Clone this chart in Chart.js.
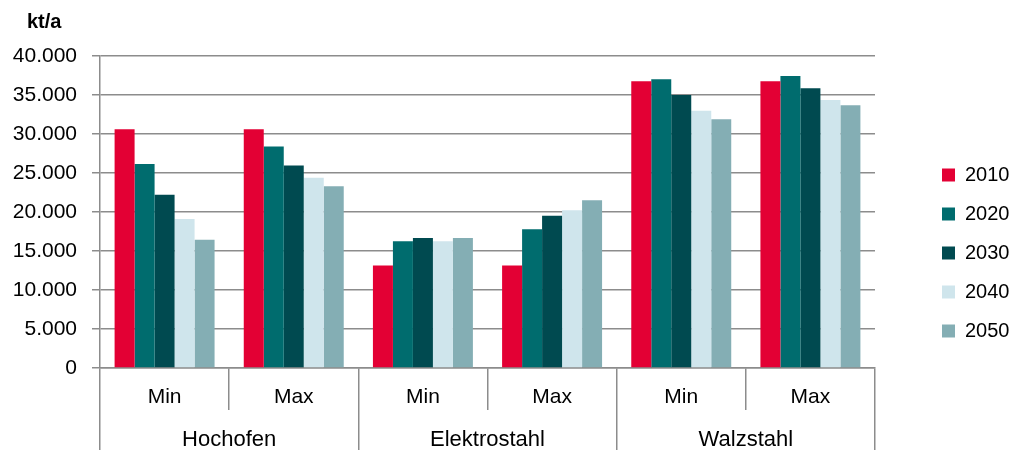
<!DOCTYPE html>
<html>
<head>
<meta charset="utf-8">
<script src="https://cdn.jsdelivr.net/npm/chart.js@4.4.1/dist/chart.umd.min.js"></script>
<style>
  html, body { margin: 0; padding: 0; background: #fff; }
  #wrap { width: 1010px; height: 450px; }
</style>
</head>
<body>
<div id="wrap"><canvas id="chart"></canvas></div>
<script>
// data
const categories = ["Min", "Max", "Min", "Max", "Min", "Max"];
const groups = ["Hochofen", "Elektrostahl", "Walzstahl"];
const years = ["2010", "2020", "2030", "2040", "2050"];

const s2010 = [30600, 30600, 13150, 13150, 36750, 36750];
const s2020 = [26150, 28400, 16250, 17780, 37010, 37440];
const s2030 = [22200, 25950, 16670, 19530, 35000, 35860];
const s2040 = [19100, 24400, 16250, 20210, 32990, 34360];
const s2050 = [16450, 23300, 16670, 21500, 31880, 33680];

const yTicks = [0, 5000, 10000, 15000, 20000, 25000, 30000, 35000, 40000];

const colors = ["#E30034", "#006C6E", "#004A50", "#CFE5EC", "#84AEB4"];
const gridColor = "#8c8c8c";
const font = "'Liberation Sans', Arial, sans-serif";

const fmt = (v) => String(v).replace(/\B(?=(\d{3})+(?!\d))/g, ".");

// "kt/a" unit label above the y axis
const unitLabel = {
  id: "unitLabel",
  afterDraw(chart) {
    const ctx = chart.ctx;
    const y = chart.scales.y;
    ctx.save();
    ctx.font = "bold 20px " + font;
    ctx.fillStyle = "#000";
    ctx.textAlign = "left";
    ctx.textBaseline = "middle";
    ctx.fillText("kt/a", y.left + 27, 22);
    ctx.restore();
  }
};

const chart = document.querySelector("#chart");

new Chart(chart, {
  type: "bar",
  data: {
    labels: categories,
    datasets: [s2010, s2020, s2030, s2040, s2050].map((d, i) => ({
      label: years[i],
      data: d,
      backgroundColor: colors[i],
      borderWidth: 0,
      categoryPercentage: 0.774,
      barPercentage: 1.0,
    })),
  },
  options: {
    responsive: true,
    maintainAspectRatio: false,
    animation: false,
    layout: { padding: { top: 56, left: 0, right: 0, bottom: 0 } },
    plugins: {
      legend: {
        position: "right",
        maxWidth: 87,
        labels: {
          boxWidth: 13,
          boxHeight: 13,
          padding: 19,
          color: "#000",
          font: { family: font, size: 20 },
        },
      },
      tooltip: { enabled: false },
    },
    scales: {
      x: {
        weight: 0,
        offset: true,
        afterFit: (s) => { s.height = 42; },
        grid: {
          offset: true,
          drawOnChartArea: false,
          tickLength: 42,
          color: gridColor,
          lineWidth: 1.5,
        },
        border: { display: true, color: gridColor, width: 1.5 },
        ticks: { color: "#000", padding: -25, autoSkip: false, maxRotation: 0, font: { family: font, size: 21 } },
      },
      x2: {
        type: "category",
        labels: groups,
        position: "bottom",
        weight: 1,
        offset: true,
        afterFit: (s) => { s.height = 40; },
        grid: {
          offset: true,
          drawOnChartArea: false,
          tickLength: 40,
          color: gridColor,
          lineWidth: 1.5,
        },
        border: { display: false },
        ticks: { color: "#000", padding: -23, autoSkip: false, maxRotation: 0, font: { family: font, size: 22 } },
      },
      y: {
        min: 0,
        max: 40000,
        afterFit: (s) => { s.width = 100; },
        afterBuildTicks: (s) => { s.ticks = yTicks.map((v) => ({ value: v })); },
        grid: { color: gridColor, lineWidth: 1.5, tickLength: 8 },
        border: { display: true, color: gridColor, width: 1.5 },
        ticks: {
          color: "#000",
          padding: 15,
          font: { family: font, size: 21 },
          callback: (v) => fmt(v),
        },
      },
      ySpace: {
        position: "right",
        display: true,
        grid: { display: false },
        border: { display: false },
        ticks: { display: false },
        afterFit: (s) => { s.width = 48; },
      },
    },
  },
  plugins: [unitLabel],
});
</script>
</body>
</html>
